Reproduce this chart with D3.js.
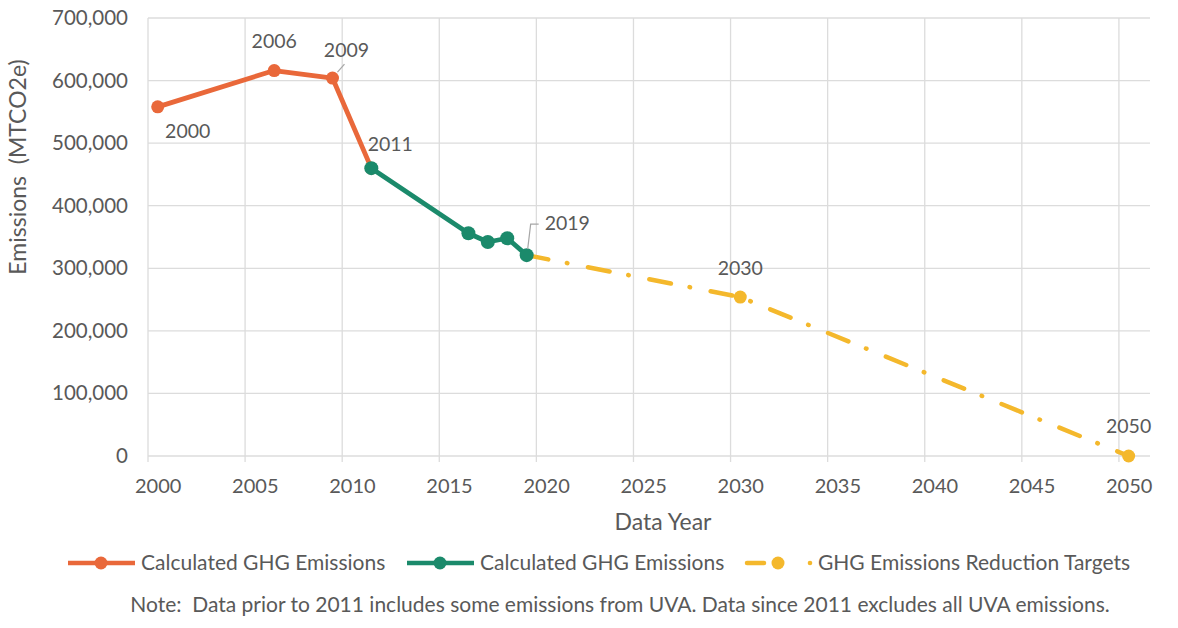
<!DOCTYPE html>
<html>
<head>
<meta charset="utf-8">
<script src="https://cdn.jsdelivr.net/npm/d3@7"></script>
<style>
  body { margin: 0; background: #fff; }
  text { font-family: Lato, "Open Sans", sans-serif; fill: #595959; }
</style>
</head>
<body>
<div id="vis1"></div>
<script>
// Declare constants
const FRAME_HEIGHT = 628;
const FRAME_WIDTH = 1178;
const MARGINS = {left: 148, right: 28, top: 18, bottom: 172};

const VIS_HEIGHT = FRAME_HEIGHT - MARGINS.top - MARGINS.bottom;
const VIS_WIDTH = FRAME_WIDTH - MARGINS.left - MARGINS.right;

// data
const CALC_YEARS_A = [2000, 2006, 2009, 2011];
const CALC_VALUES_A = [558000, 616000, 604000, 460000];
const CALC_YEARS_B = [2011, 2016, 2017, 2018, 2019];
const CALC_VALUES_B = [460000, 356000, 342000, 348000, 321000];
const TARGET_YEARS = [2019, 2030, 2050];
const TARGET_VALUES = [321000, 254000, 0];
const TARGET_MARKER_YEARS = [2030, 2050];

const X_TICKS = [2000, 2005, 2010, 2015, 2020, 2025, 2030, 2035, 2040, 2045, 2050];
const Y_TICKS = [0, 100000, 200000, 300000, 400000, 500000, 600000, 700000];

const LEGEND_LABELS = ["Calculated GHG Emissions", "Calculated GHG Emissions",
                       "GHG Emissions Reduction Targets"];
const NOTE = "Note:  Data prior to 2011 includes some emissions from UVA. Data since 2011 excludes all UVA emissions.";

const ORANGE = "#e9683a";
const GREEN = "#1b8a6b";
const YELLOW = "#f4b82c";

const FRAME1 = d3.select("#vis1")
                  .append("svg")
                    .attr("height", FRAME_HEIGHT)
                    .attr("width", FRAME_WIDTH);

// scale functions (years sit in the middle of each yearly band)
const X_SCALE = d3.scaleLinear()
                    .domain([1999.5, 2051.1])
                    .range([0, VIS_WIDTH]);

const Y_SCALE = d3.scaleLinear()
                    .domain([0, 700000])
                    .range([VIS_HEIGHT, 0]);

const PLOT = FRAME1.append("g")
                .attr("transform", "translate(" + MARGINS.left + "," + MARGINS.top + ")");

// horizontal gridlines
PLOT.selectAll(".hgrid")
    .data(Y_TICKS)
    .enter()
    .append("line")
      .attr("x1", 0)
      .attr("x2", VIS_WIDTH)
      .attr("y1", (d) => Y_SCALE(d))
      .attr("y2", (d) => Y_SCALE(d))
      .attr("stroke", "#dcdcdc")
      .attr("stroke-width", 1.3);

// vertical gridlines on band edges, with small ticks below the axis
PLOT.selectAll(".vgrid")
    .data(X_TICKS)
    .enter()
    .append("line")
      .attr("x1", (d) => X_SCALE(d - 0.5))
      .attr("x2", (d) => X_SCALE(d - 0.5))
      .attr("y1", 0)
      .attr("y2", VIS_HEIGHT + 6)
      .attr("stroke", "#dcdcdc")
      .attr("stroke-width", 1.3);

// axes (labels only)
const xAxis = PLOT.append("g")
    .attr("transform", "translate(0," + VIS_HEIGHT + ")")
    .call(d3.axisBottom(X_SCALE).tickValues(X_TICKS).tickFormat(d3.format("d")).tickSize(0).tickPadding(23));
xAxis.select(".domain").remove();
xAxis.selectAll("text").attr("font-size", "20px").attr("fill", "#595959").attr("font-family", "Lato");

const yAxis = PLOT.append("g")
    .call(d3.axisLeft(Y_SCALE).tickValues(Y_TICKS).tickFormat(d3.format(",")).tickSize(0).tickPadding(20));
yAxis.select(".domain").remove();
yAxis.selectAll("text").attr("font-size", "20.5px").attr("fill", "#595959").attr("font-family", "Lato");

// lines
const LINE = d3.line()
    .x((d) => X_SCALE(d[0]))
    .y((d) => Y_SCALE(d[1]));

const targetData = d3.zip(TARGET_YEARS, TARGET_VALUES);
const calcA = d3.zip(CALC_YEARS_A, CALC_VALUES_A);
const calcB = d3.zip(CALC_YEARS_B, CALC_VALUES_B);

PLOT.append("path")
    .datum(targetData)
    .attr("d", LINE)
    .attr("fill", "none")
    .attr("stroke", YELLOW)
    .attr("stroke-width", 4.5)
    .attr("stroke-linecap", "round")
    .attr("stroke-dasharray", "22 19 0.5 21");

PLOT.selectAll(".tmark")
    .data(targetData.filter((d) => TARGET_MARKER_YEARS.includes(d[0])))
    .enter()
    .append("circle")
      .attr("cx", (d) => X_SCALE(d[0]))
      .attr("cy", (d) => Y_SCALE(d[1]))
      .attr("r", 6.5)
      .attr("fill", YELLOW);

PLOT.append("path")
    .datum(calcA)
    .attr("d", LINE)
    .attr("fill", "none")
    .attr("stroke", ORANGE)
    .attr("stroke-width", 4.8)
    .attr("stroke-linejoin", "round");

PLOT.selectAll(".amark")
    .data(calcA)
    .enter()
    .append("circle")
      .attr("cx", (d) => X_SCALE(d[0]))
      .attr("cy", (d) => Y_SCALE(d[1]))
      .attr("r", 6.5)
      .attr("fill", ORANGE);

PLOT.append("path")
    .datum(calcB)
    .attr("d", LINE)
    .attr("fill", "none")
    .attr("stroke", GREEN)
    .attr("stroke-width", 4.8)
    .attr("stroke-linejoin", "round");

PLOT.selectAll(".bmark")
    .data(calcB)
    .enter()
    .append("circle")
      .attr("cx", (d) => X_SCALE(d[0]))
      .attr("cy", (d) => Y_SCALE(d[1]))
      .attr("r", 7)
      .attr("fill", GREEN);

// data labels: [point, dx, dy, anchor]
const LABELS = [
  [calcA[0], 30, 24, "middle"],
  [calcA[1], 0, -29, "middle"],
  [calcA[2], 14, -28, "middle"],
  [calcB[0], 19, -24, "middle"],
  [calcB[4], 18, -32, "start"],
  [targetData[1], 0, -29, "middle"],
  [targetData[2], 0, -30, "middle"]
];

PLOT.selectAll(".dlabel")
    .data(LABELS)
    .enter()
    .append("text")
      .attr("x", (d) => X_SCALE(d[0][0]) + d[1])
      .attr("y", (d) => Y_SCALE(d[0][1]) + d[2])
      .attr("dy", "0.35em")
      .attr("text-anchor", (d) => d[3])
      .attr("font-size", "19.5px")
      .text((d) => d[0][0]);

// leader lines for 2009 and 2019
const p2009 = calcA[2], p2019 = calcB[4];
PLOT.append("path")
    .attr("d", "M" + (X_SCALE(p2009[0]) + 5) + "," + (Y_SCALE(p2009[1]) - 6) +
               "L" + (X_SCALE(p2009[0]) + 12) + "," + (Y_SCALE(p2009[1]) - 14))
    .attr("stroke", "#a6a6a6").attr("fill", "none").attr("stroke-width", 1.2);
PLOT.append("path")
    .attr("d", "M" + (X_SCALE(p2019[0]) + 1) + "," + (Y_SCALE(p2019[1]) - 6) +
               "L" + (X_SCALE(p2019[0]) + 4) + "," + (Y_SCALE(p2019[1]) - 31) +
               "L" + (X_SCALE(p2019[0]) + 12) + "," + (Y_SCALE(p2019[1]) - 31))
    .attr("stroke", "#a6a6a6").attr("fill", "none").attr("stroke-width", 1.2);

// axis titles
FRAME1.append("text")
    .attr("transform", "translate(18,167) rotate(-90)")
    .attr("text-anchor", "middle")
    .attr("dy", "0.35em")
    .attr("font-size", "23px")
    .style("white-space", "pre")
    .text("Emissions  (MTCO2e)");

FRAME1.append("text")
    .attr("x", 663)
    .attr("y", 522)
    .attr("dy", "0.35em")
    .attr("text-anchor", "middle")
    .attr("font-size", "23px")
    .text("Data Year");

// legend
const LEGEND = FRAME1.append("g").attr("transform", "translate(0,563)");
const legendItems = [
  {x: 68, color: ORANGE, label: LEGEND_LABELS[0]},
  {x: 407, color: GREEN, label: LEGEND_LABELS[1]}
];
legendItems.forEach((it) => {
  LEGEND.append("line")
      .attr("x1", it.x).attr("x2", it.x + 67)
      .attr("y1", 0).attr("y2", 0)
      .attr("stroke", it.color).attr("stroke-width", 4.5);
  LEGEND.append("circle")
      .attr("cx", it.x + 33).attr("cy", 0).attr("r", 6.5)
      .attr("fill", it.color);
  LEGEND.append("text")
      .attr("x", it.x + 73).attr("y", 0).attr("dy", "0.35em")
      .attr("font-size", "21px")
      .text(it.label);
});
LEGEND.append("line")
    .attr("x1", 747).attr("x2", 764)
    .attr("y1", 0).attr("y2", 0)
    .attr("stroke", YELLOW).attr("stroke-width", 4.5).attr("stroke-linecap", "round");
LEGEND.append("circle")
    .attr("cx", 778).attr("cy", 0).attr("r", 6.5).attr("fill", YELLOW);
LEGEND.append("circle")
    .attr("cx", 810).attr("cy", 0).attr("r", 2.3).attr("fill", YELLOW);
LEGEND.append("text")
    .attr("x", 818).attr("y", 0).attr("dy", "0.35em")
    .attr("font-size", "21px")
    .text(LEGEND_LABELS[2]);

// note
FRAME1.append("text")
    .attr("x", 620)
    .attr("y", 605)
    .attr("dy", "0.35em")
    .attr("text-anchor", "middle")
    .attr("font-size", "21px")
    .style("white-space", "pre")
    .text(NOTE);
</script>
</body>
</html>
